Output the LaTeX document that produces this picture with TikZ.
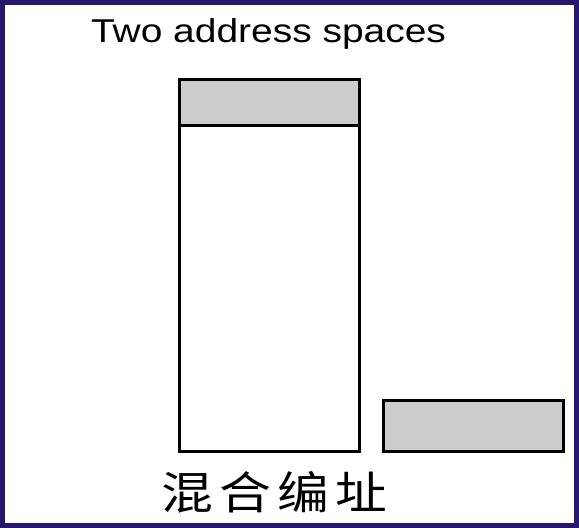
\documentclass[tikz,border=0pt]{standalone}
\usepackage{fontspec}
\setmainfont{Liberation Sans}
\newfontfamily\cjk{Noto Sans CJK SC}
\definecolor{frame}{HTML}{28176E}
\definecolor{fillgrey}{HTML}{CCCCCC}
\tikzset{
  box/.style={draw=black, line width=3pt},
  greybox/.style={box, fill=fillgrey},
}
\begin{document}
\begin{tikzpicture}[x=1pt,y=-1pt]
\useasboundingbox (0,0) rectangle (579,528);
\draw[frame, line width=5pt] (2.5,2.5) rectangle (576,525.5);
\node[inner sep=0pt, anchor=base] (title) at (268.5,42) {\scalebox{1.18}[1]{\fontsize{33}{36}\selectfont Two address spaces}};
\draw[greybox] (179,79) rectangle (359,125) coordinate (tophdr);
\draw[box] (179,125) rectangle (359,451.5);
\draw[greybox] (383,400) rectangle (563,451.5);
\node[inner sep=0pt, anchor=base] (label) at (274,509) {\scalebox{1.15}[1]{\cjk\fontsize{45}{49}\selectfont\addfontfeature{LetterSpace=12}混合编址}};
\end{tikzpicture}
\end{document}
